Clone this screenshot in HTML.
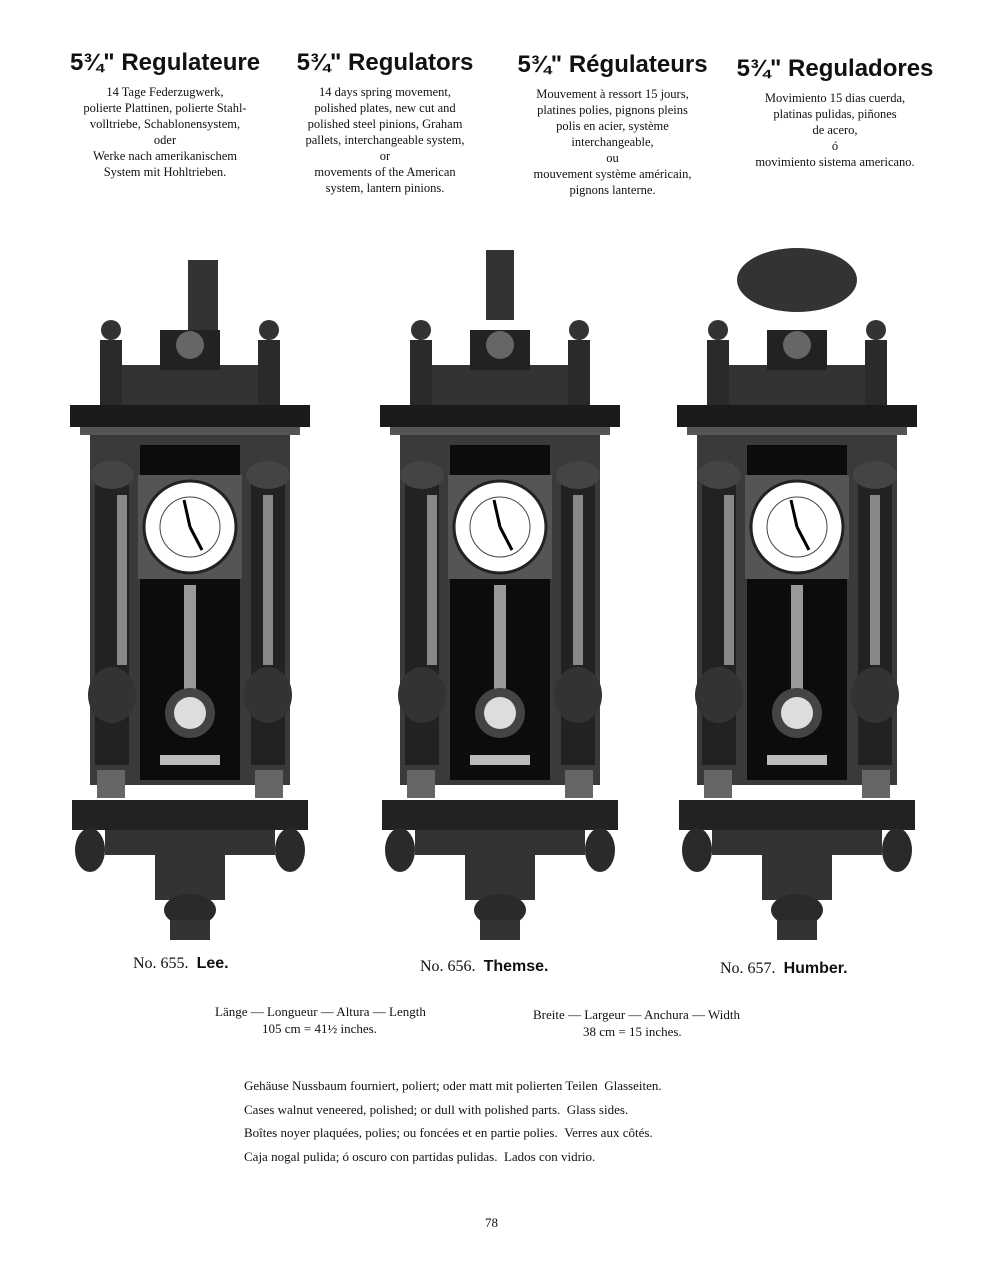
<!DOCTYPE html>
<html><head><meta charset="utf-8"><style>
body{margin:0;background:#fff;}
.pg{position:relative;width:996px;height:1280px;font-family:"Liberation Serif",serif;color:#111;overflow:hidden}
.col{position:absolute;text-align:center;font-size:12.5px;line-height:16px}
.col h2{font-family:"Liberation Sans",sans-serif;font-size:24px;margin:0 0 6px 0;font-weight:bold;line-height:30px}
.t{position:absolute;font-size:14px}
</style></head><body><div class="pg">
<div class="col" style="left:60px;top:48px;width:210px"><h2>5¾" Regulateure</h2>14 Tage Federzugwerk,<br>polierte Plattinen, polierte Stahl-<br>volltriebe, Schablonensystem,<br>oder<br>Werke nach amerikanischem<br>System mit Hohltrieben.</div>
<div class="col" style="left:285px;top:48px;width:200px"><h2>5¾" Regulators</h2>14 days spring movement,<br>polished plates, new cut and<br>polished steel pinions, Graham<br>pallets, interchangeable system,<br>or<br>movements of the American<br>system, lantern pinions.</div>
<div class="col" style="left:505px;top:50px;width:215px"><h2>5¾" Régulateurs</h2>Mouvement à ressort 15 jours,<br>platines polies, pignons pleins<br>polis en acier, système<br>interchangeable,<br>ou<br>mouvement système américain,<br>pignons lanterne.</div>
<div class="col" style="left:735px;top:54px;width:200px"><h2>5¾" Reguladores</h2>Movimiento 15 dias cuerda,<br>platinas pulidas, piñones<br>de acero,<br>ó<br>movimiento sistema americano.</div>

<svg width="996" height="1280" style="position:absolute;left:0;top:0">
<defs>
<g id="clk">
 <!-- crest -->
 <rect x="-85" y="-90" width="170" height="40" fill="#333"/>
 <rect x="-30" y="-125" width="60" height="40" fill="#222"/>
 <circle cx="0" cy="-110" r="14" fill="#666"/>
 <rect x="-90" y="-115" width="22" height="65" fill="#2a2a2a"/>
 <rect x="68" y="-115" width="22" height="65" fill="#2a2a2a"/>
 <circle cx="-79" cy="-125" r="10" fill="#333"/><circle cx="79" cy="-125" r="10" fill="#333"/>
 <!-- cornice -->
 <rect x="-120" y="-50" width="240" height="22" fill="#1a1a1a"/>
 <rect x="-110" y="-28" width="220" height="8" fill="#555"/>
 <!-- body -->
 <rect x="-100" y="-20" width="200" height="350" fill="#3a3a3a"/>
 <rect x="-50" y="-10" width="100" height="335" fill="#0c0c0c"/>
 <!-- columns -->
 <rect x="-95" y="10" width="34" height="300" fill="#222"/>
 <rect x="61" y="10" width="34" height="300" fill="#222"/>
 <ellipse cx="-78" cy="20" rx="22" ry="14" fill="#444"/><ellipse cx="78" cy="20" rx="22" ry="14" fill="#444"/>
 <ellipse cx="-78" cy="240" rx="24" ry="28" fill="#333"/><ellipse cx="78" cy="240" rx="24" ry="28" fill="#333"/>
 <rect x="-73" y="40" width="10" height="170" fill="#888"/><rect x="73" y="40" width="10" height="170" fill="#888"/>
 <!-- dial -->
 <rect x="-52" y="20" width="104" height="104" fill="#555"/>
 <circle cx="0" cy="72" r="46" fill="#fff" stroke="#222" stroke-width="3"/>
 <circle cx="0" cy="72" r="30" fill="none" stroke="#444" stroke-width="1"/>
 <line x1="0" y1="72" x2="-6" y2="45" stroke="#000" stroke-width="3"/>
 <line x1="0" y1="72" x2="12" y2="95" stroke="#000" stroke-width="3"/>
 <!-- pendulum -->
 <rect x="-6" y="130" width="12" height="110" fill="#999"/>
 <circle cx="0" cy="258" r="25" fill="#444"/><circle cx="0" cy="258" r="16" fill="#ddd"/>
 <rect x="-30" y="300" width="60" height="10" fill="#bbb"/>
 <rect x="-93" y="315" width="28" height="28" fill="#666"/><rect x="65" y="315" width="28" height="28" fill="#666"/>
 <!-- base -->
 <rect x="-118" y="345" width="236" height="30" fill="#222"/>
 <rect x="-85" y="375" width="170" height="25" fill="#333"/>
 <ellipse cx="-100" cy="395" rx="15" ry="22" fill="#2a2a2a"/><ellipse cx="100" cy="395" rx="15" ry="22" fill="#2a2a2a"/>
 <rect x="-35" y="400" width="70" height="45" fill="#333"/>
 <ellipse cx="0" cy="455" rx="26" ry="16" fill="#2a2a2a"/>
 <rect x="-20" y="465" width="40" height="20" fill="#333"/>
</g>
</defs>
<use href="#clk" transform="translate(190,455)"/>
<use href="#clk" transform="translate(500,455)"/>
<use href="#clk" transform="translate(797,455)"/>
<rect x="188" y="260" width="30" height="70" fill="#333"/>
<rect x="486" y="250" width="28" height="70" fill="#333"/>
<ellipse cx="797" cy="280" rx="60" ry="32" fill="#333"/>
</svg>

<div class="t" style="left:133px;top:955px;font-size:16px">No. 655. &nbsp;<b style="font-family:'Liberation Sans',sans-serif">Lee.</b></div>
<div class="t" style="left:420px;top:958px;font-size:16px">No. 656. &nbsp;<b style="font-family:'Liberation Sans',sans-serif">Themse.</b></div>
<div class="t" style="left:720px;top:960px;font-size:16px">No. 657. &nbsp;<b style="font-family:'Liberation Sans',sans-serif">Humber.</b></div>
<div class="t" style="left:215px;top:1003px;font-size:13px;line-height:17px">Länge — Longueur — Altura — Length<br><span style="padding-left:47px">105 cm = 41½ inches.</span></div>
<div class="t" style="left:533px;top:1006px;font-size:13px;line-height:17px">Breite — Largeur — Anchura — Width<br><span style="padding-left:50px">38 cm = 15 inches.</span></div>
<div class="t" style="left:244px;top:1074px;font-size:13px;line-height:23.5px">Gehäuse Nussbaum fourniert, poliert; oder matt mit polierten Teilen &nbsp;Glasseiten.<br>Cases walnut veneered, polished; or dull with polished parts. &nbsp;Glass sides.<br>Boîtes noyer plaquées, polies; ou foncées et en partie polies. &nbsp;Verres aux côtés.<br>Caja nogal pulida; ó oscuro con partidas pulidas. &nbsp;Lados con vidrio.</div>
<div class="t" style="left:485px;top:1215px;font-size:13px">78</div>
</div></body></html>
